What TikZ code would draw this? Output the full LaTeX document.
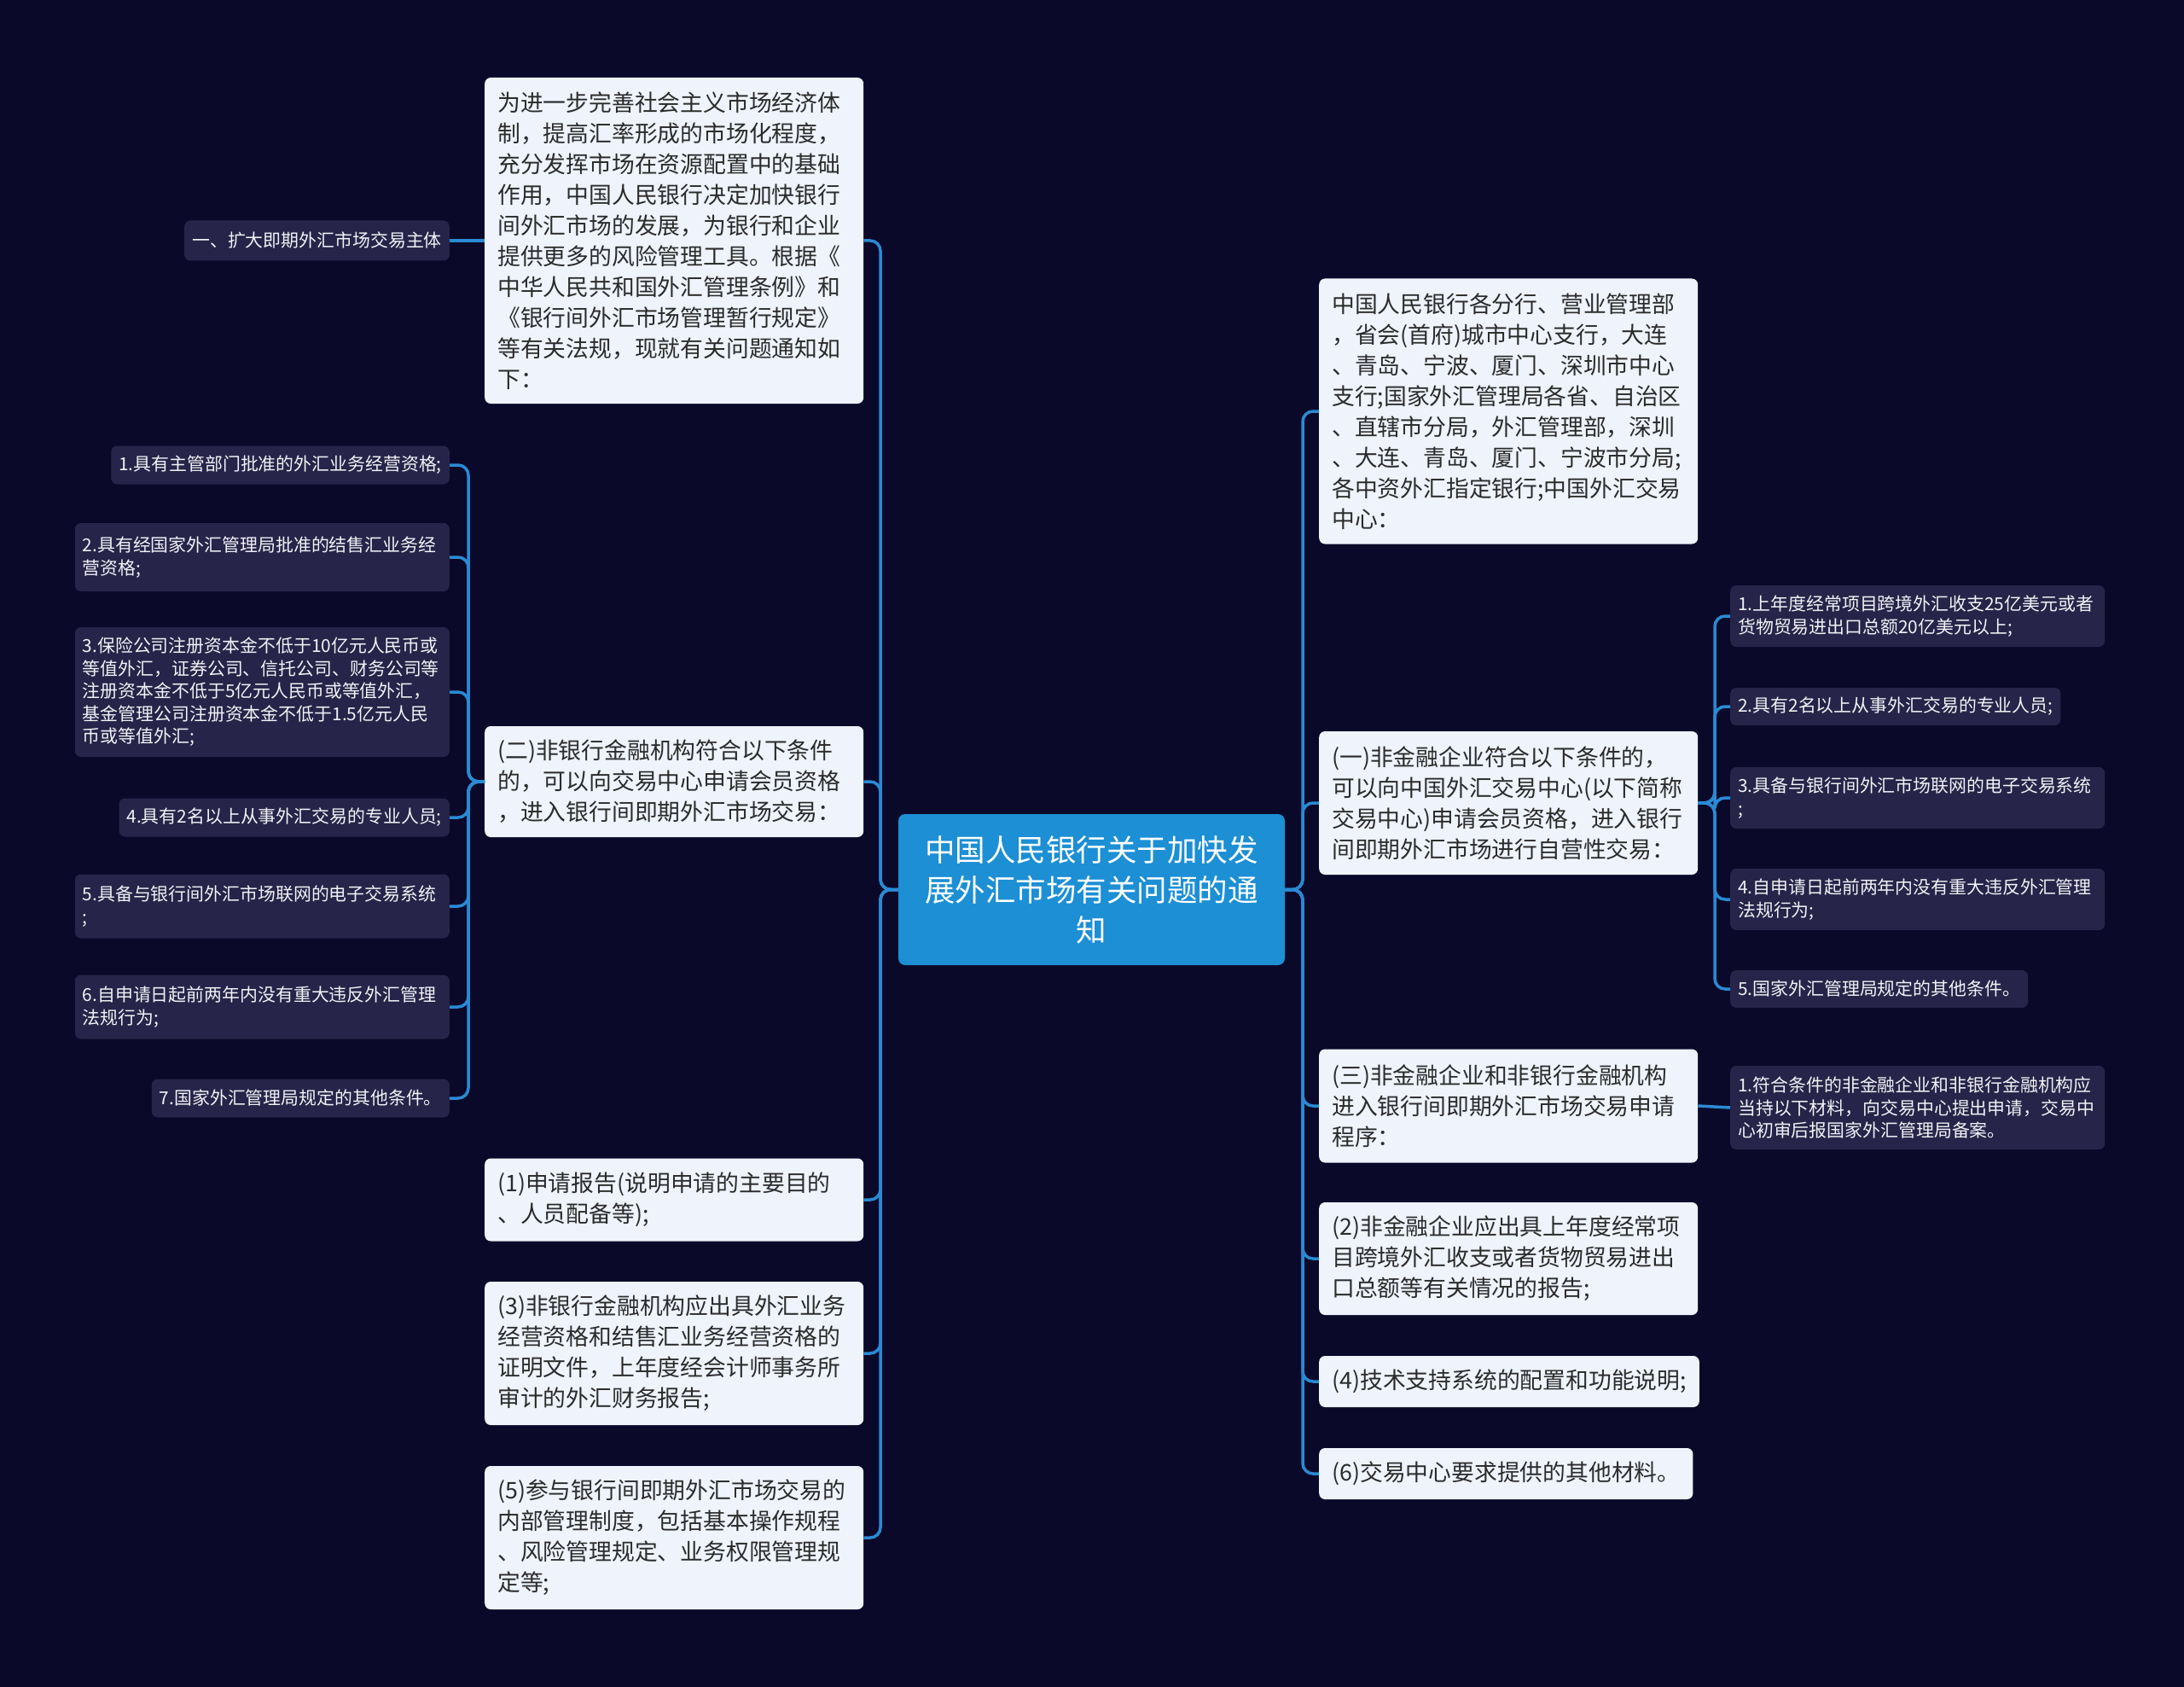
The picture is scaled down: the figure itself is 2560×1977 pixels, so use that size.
\documentclass[tikz,border=0pt]{standalone}
\usepackage{fontspec}
\setmainfont{Noto Sans CJK SC}
\usepackage{xcolor}
\usepackage{tikz}
\usetikzlibrary{positioning,calc}
\definecolor{bgnavy}{HTML}{0B0929}
\definecolor{rootblue}{HTML}{1C8FD5}
\definecolor{linkblue}{HTML}{2A8AD4}
\definecolor{panelfill}{HTML}{EEF3FC}
\definecolor{panelink}{HTML}{2B2B2B}
\definecolor{leaffill}{HTML}{262448}
\definecolor{leafink}{HTML}{F2F2F7}

\begin{document}
\begin{tikzpicture}[x=1pt, y=-1pt,
  rootbox/.style={rectangle, rounded corners=8pt, fill=rootblue, text=white, align=center,
    font=\fontsize{35.5}{47}\selectfont, minimum width=453pt, minimum height=177pt},
  panel/.style={rectangle, rounded corners=7pt, fill=panelfill, text=panelink, align=left,
    font=\fontsize{26.8}{36}\selectfont, inner xsep=15pt, inner ysep=11pt},
  wide/.style={text width=414pt},
  leaf/.style={rectangle, rounded corners=7pt, fill=leaffill, text=leafink, align=left,
    font=\fontsize{20.9}{26.5}\selectfont, inner xsep=9pt, inner ysep=10pt},
  leafwide/.style={text width=421pt},
  link/.style={draw=linkblue, line width=3.5pt, rounded corners=12pt}]
\fill[bgnavy] (0,0) rectangle (2560,1977);

\node[rootbox] (root) at (1279.5,1042.5) {中国人民银行关于加快发\\展外汇市场有关问题的通\\知};

% left side
\node[panel, wide, anchor=west, minimum height=382pt] (intro) at (568,282) {为进一步完善社会主义市场经济体\\制，提高汇率形成的市场化程度，\\充分发挥市场在资源配置中的基础\\作用，中国人民银行决定加快银行\\间外汇市场的发展，为银行和企业\\提供更多的风险管理工具。根据《\\中华人民共和国外汇管理条例》和\\《银行间外汇市场管理暂行规定》\\等有关法规，现就有关问题通知如\\下：};
\node[leaf, anchor=east, minimum height=47pt] (lead) at (527,282) {一、扩大即期外汇市场交易主体};
\node[panel, wide, anchor=west, minimum height=130pt] (nonbank) at (568,916) {(二)非银行金融机构符合以下条件\\的，可以向交易中心申请会员资格\\，进入银行间即期外汇市场交易：};
\node[panel, wide, anchor=west, minimum height=97pt] (rep1) at (568,1406) {(1)申请报告(说明申请的主要目的\\、人员配备等);};
\node[panel, wide, anchor=west, minimum height=168pt] (rep3) at (568,1586) {(3)非银行金融机构应出具外汇业务\\经营资格和结售汇业务经营资格的\\证明文件，上年度经会计师事务所\\审计的外汇财务报告;};
\node[panel, wide, anchor=west, minimum height=168pt] (rep5) at (568,1802) {(5)参与银行间即期外汇市场交易的\\内部管理制度，包括基本操作规程\\、风险管理规定、业务权限管理规\\定等;};

\node[leaf, anchor=east, minimum height=45pt] (nb1) at (527,545) {1.具有主管部门批准的外汇业务经营资格;};
\node[leaf, leafwide, anchor=east, minimum height=80pt] (nb2) at (527,653) {2.具有经国家外汇管理局批准的结售汇业务经\\营资格;};
\node[leaf, leafwide, anchor=east, minimum height=152pt] (nb3) at (527,811) {3.保险公司注册资本金不低于10亿元人民币或\\等值外汇，证券公司、信托公司、财务公司等\\注册资本金不低于5亿元人民币或等值外汇，\\基金管理公司注册资本金不低于1.5亿元人民\\币或等值外汇;};
\node[leaf, anchor=east, minimum height=45pt] (nb4) at (527,958) {4.具有2名以上从事外汇交易的专业人员;};
\node[leaf, leafwide, anchor=east, minimum height=75pt] (nb5) at (527,1062) {5.具备与银行间外汇市场联网的电子交易系统\\;};
\node[leaf, leafwide, anchor=east, minimum height=75pt] (nb6) at (527,1180) {6.自申请日起前两年内没有重大违反外汇管理\\法规行为;};
\node[leaf, anchor=east, minimum height=45pt] (nb7) at (527,1287) {7.国家外汇管理局规定的其他条件。};

% right side
\node[panel, wide, anchor=west, minimum height=311pt] (recip) at (1546,482) {中国人民银行各分行、营业管理部\\，省会(首府)城市中心支行，大连\\、青岛、宁波、厦门、深圳市中心\\支行;国家外汇管理局各省、自治区\\、直辖市分局，外汇管理部，深圳\\、大连、青岛、厦门、宁波市分局;\\各中资外汇指定银行;中国外汇交易\\中心：};
\node[panel, wide, anchor=west, minimum height=168pt] (nonfin) at (1546,941) {(一)非金融企业符合以下条件的，\\可以向中国外汇交易中心(以下简称\\交易中心)申请会员资格，进入银行\\间即期外汇市场进行自营性交易：};
\node[panel, wide, anchor=west, minimum height=133pt] (proc) at (1546,1296) {(三)非金融企业和非银行金融机构\\进入银行间即期外汇市场交易申请\\程序：};
\node[panel, wide, anchor=west, minimum height=132pt] (rep2) at (1546,1475) {(2)非金融企业应出具上年度经常项\\目跨境外汇收支或者货物贸易进出\\口总额等有关情况的报告;};
\node[panel, anchor=west, minimum height=60pt] (rep4) at (1546,1619) {(4)技术支持系统的配置和功能说明;};
\node[panel, anchor=west, minimum height=60pt] (rep6) at (1546,1727) {(6)交易中心要求提供的其他材料。};

\node[leaf, leafwide, anchor=west, minimum height=72pt] (nf1) at (2028,722) {1.上年度经常项目跨境外汇收支25亿美元或者\\货物贸易进出口总额20亿美元以上;};
\node[leaf, anchor=west, minimum height=44pt] (nf2) at (2028,828) {2.具有2名以上从事外汇交易的专业人员;};
\node[leaf, leafwide, anchor=west, minimum height=72pt] (nf3) at (2028,935) {3.具备与银行间外汇市场联网的电子交易系统\\;};
\node[leaf, leafwide, anchor=west, minimum height=72pt] (nf4) at (2028,1054) {4.自申请日起前两年内没有重大违反外汇管理\\法规行为;};
\node[leaf, anchor=west, minimum height=44pt] (nf5) at (2028,1159) {5.国家外汇管理局规定的其他条件。};
\node[leaf, leafwide, anchor=west, minimum height=98pt] (pr1) at (2028,1298) {1.符合条件的非金融企业和非银行金融机构应\\当持以下材料，向交易中心提出申请，交易中\\心初审后报国家外汇管理局备案。};

% connectors
\coordinate (lt) at (1032,0);
\coordinate (ll) at (549,0);
\coordinate (rt) at (1527,0);
\coordinate (rr) at (2010,0);
\foreach \n in {intro,nonbank,rep1,rep3,rep5}
  \draw[link] (root.west) -- (root.west -| lt) |- (\n.east);
\foreach \n in {nb1,nb2,nb3,nb4,nb5,nb6,nb7}
  \draw[link] (nonbank.west) -- (nonbank.west -| ll) |- (\n.east);
\foreach \n in {recip,nonfin,proc,rep2,rep4,rep6}
  \draw[link] (root.east) -- (root.east -| rt) |- (\n.west);
\foreach \n in {nf1,nf2,nf3,nf4,nf5}
  \draw[link] (nonfin.east) -- (nonfin.east -| rr) |- (\n.west);
\draw[link] (intro.west) -- (lead.east);
\draw[link] (proc.east) -- (pr1.west);
\end{tikzpicture}
\end{document}
